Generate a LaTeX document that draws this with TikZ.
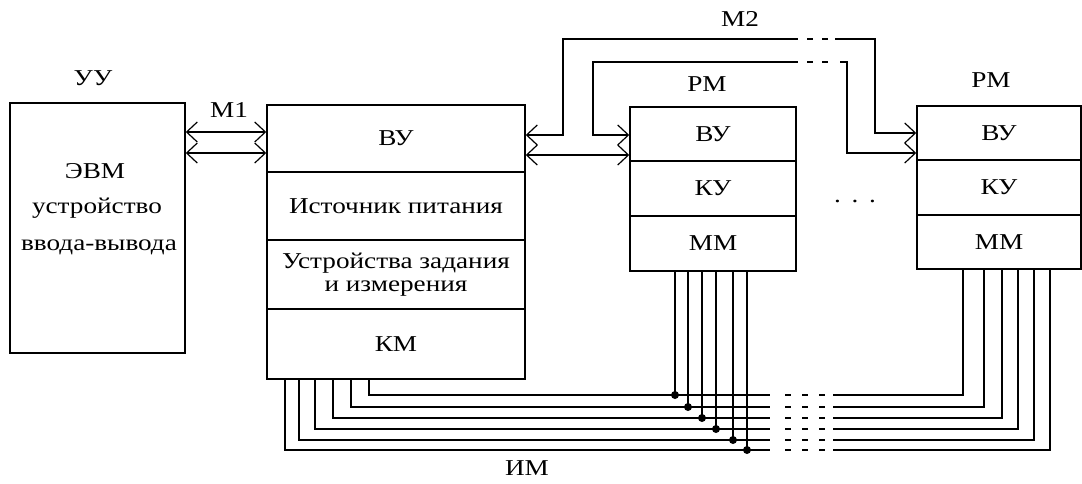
\documentclass[tikz,border=0pt]{standalone}
\usepackage{fontspec}
\setmainfont{Liberation Serif}[FakeStretch=1.2]
\usetikzlibrary{arrows.meta}

\newcommand{\blkfont}{\fontsize{17}{17.25}\selectfont}
\tikzset{
  barb/.tip={Straight Barb[length=8pt,width=15pt,line width=0.9pt]},
  row/.style={draw,rectangle,inner sep=0pt,line width=1.1pt},
  bus/.style={barb-barb},
  topgap/.style={dash pattern=on 0pt off 6.75pt on 4.5pt off 6.75pt on 4.5pt off 20pt},
  imgap/.style={dash pattern=on 0pt off 11.25pt on 4.5pt off 8.25pt on 4.5pt off 8.25pt on 4.5pt off 20pt},
  jdot/.style={circle,fill,inner sep=0pt,minimum size=6pt}
}

\begin{document}
\begin{tikzpicture}[x=0.75pt,y=-0.75pt,line width=1.1pt,every node/.style={font=\blkfont}]
\useasboundingbox (0,0) rectangle (1082,483);

% UU
\node[row,minimum width=131.25pt,minimum height=187.5pt] (uu) at (97.5,228) {};
\node (uut) at (93,78) {УУ};
\node[anchor=base] (evm) at (95,178) {ЭВМ};
\node[anchor=base] (ustr) at (97,213) {устройство};
\node[anchor=base] (vvod) at (99,250) {ввода-вывода};

% main block
\node[row,minimum width=193.5pt,minimum height=50.25pt] (mvu) at (396,138.5) {ВУ};
\node[row,minimum width=193.5pt,minimum height=51pt] (mpit) at (396,206) {Источник питания};
\node[row,minimum width=193.5pt,minimum height=51.75pt,align=center] (mzad) at (396,274.5) {Устройства задания\\и измерения};
\node[row,minimum width=193.5pt,minimum height=52.5pt] (mkm) at (396,344) {КМ};

% RM 1
\node (rm1) at (707,84) {РМ};
\node[row,minimum width=124.5pt,minimum height=40.5pt] (r1vu) at (713,134) {ВУ};
\node[row,minimum width=124.5pt,minimum height=41.25pt] (r1ku) at (713,188.5) {КУ};
\node[row,minimum width=124.5pt,minimum height=41.25pt] (r1mm) at (713,243.5) {ММ};

% RM 2
\node (rm2) at (991,80) {РМ};
\node[row,minimum width=123pt,minimum height=40.5pt] (r2vu) at (999,133) {ВУ};
\node[row,minimum width=123pt,minimum height=41.25pt] (r2ku) at (999,187.5) {КУ};
\node[row,minimum width=123pt,minimum height=40.5pt] (r2mm) at (999,242) {ММ};

\node (dots) at (855,201) {.\hspace{8pt}.\hspace{8pt}.};

% M1
\node (m1) at (229,110) {М1};
\draw[bus] (uu.east |- 0,132) -- (mvu.west |- 0,132);
\draw[bus] (uu.east |- 0,153) -- (mvu.west |- 0,153);

% M2
\node (m2) at (740,19) {М2};
\draw[bus] (mvu.east |- 0,155) -- (r1vu.west |- 0,155);
\coordinate (m2a) at (798,39);
\coordinate (m2b) at (835,39);
\draw[barb-] (mvu.east |- 0,135) -| (563,39) -- (m2a);
\draw[topgap] (m2a) -- (m2b);
\draw[-barb] (m2b) -| (875,133) -- (r2vu.west |- 0,133);
\coordinate (m2c) at (798,62);
\coordinate (m2d) at (840,62);
\draw[barb-] (r1vu.west |- 0,135) -| (593,62) -- (m2c);
\draw[topgap] (m2c) -- (m2d);
\draw[-barb] (m2d) -| (847,153) -- (r2vu.west |- 0,153);

% IM
\node (im) at (527,468) {ИМ};
\foreach \k/\xk/\yy/\xa/\xb in {1/369/395/675/963, 2/351/407/688/984,
    3/333/418/702/1002, 4/315/429/716/1018, 5/299/440/733/1034, 6/285/450/747/1050} {
  \coordinate (ba\k) at (770,\yy);
  \coordinate (bb\k) at (833,\yy);
  \node[jdot] (j\k) at (\xa,\yy) {};
  \draw (mkm.south -| \xk,0) |- (ba\k);
  \draw[imgap] (ba\k) -- (bb\k);
  \draw (bb\k) -| (r2mm.south -| \xb,0);
  \draw (r1mm.south -| j\k) -- (j\k.center);
}
\end{tikzpicture}
\end{document}
